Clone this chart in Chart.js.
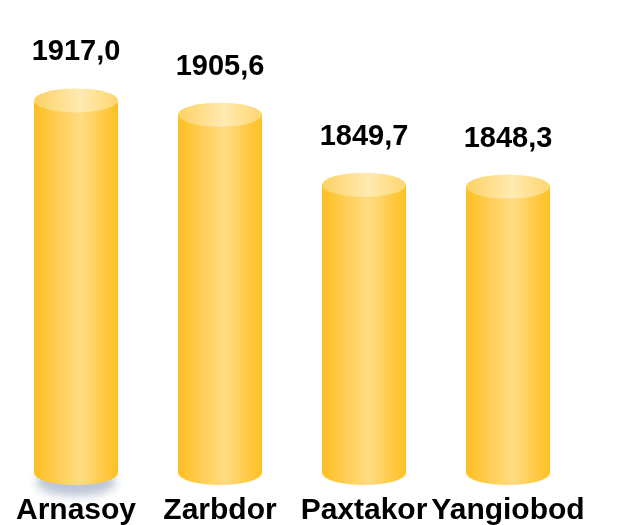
<!DOCTYPE html>
<html>
<head>
<meta charset="utf-8">
<script src="https://cdn.jsdelivr.net/npm/chart.js@4.4.0/dist/chart.umd.min.js"></script>
<style>
  html, body { margin: 0; padding: 0; background: #fff; }
  #wrap { width: 624px; height: 525px; }
</style>
</head>
<body>
<div id="wrap"><canvas id="chart"></canvas></div>
<script>
"use strict";

// Districts and their values
const districts = ['Arnasoy', 'Zarbdor', 'Paxtakor', 'Yangiobod'];
const values = [1917.0, 1905.6, 1849.7, 1848.3];

// Value axis range (axis itself is hidden)
const axisMin = 1620;
const axisMax = 1950;

const capRy = 12;

function bodyGradient(ctx, left, right) {
  const g = ctx.createLinearGradient(left, 0, right, 0);
  g.addColorStop(0, '#FFBF22');
  g.addColorStop(0.55, '#FFDC82');
  g.addColorStop(1, '#FFBF22');
  return g;
}

function capGradient(ctx, left, right) {
  const g = ctx.createLinearGradient(left, 0, right, 0);
  g.addColorStop(0, '#FDD263');
  g.addColorStop(0.55, '#FFEAB2');
  g.addColorStop(1, '#FDD66E');
  return g;
}

// Draw each bar as a cylinder, using the bar element's position
const cylinders = {
  id: 'cylinders',
  afterDatasetsDraw(chart) {
    const ctx = chart.ctx;
    const meta = chart.getDatasetMeta(0);
    meta.data.forEach((bar, i) => {
      const rx = bar.width / 2;
      const left = bar.x - rx;
      const right = bar.x + rx;
      const top = bar.y;
      const base = bar.base;

      // soft shadow under the first cylinder
      if (i === 0) {
        ctx.save();
        ctx.filter = 'blur(5px)';
        ctx.fillStyle = 'rgba(120,140,170,0.5)';
        ctx.beginPath();
        ctx.ellipse(bar.x, base + 9, rx - 2, capRy + 2, 0, 0, Math.PI * 2);
        ctx.fill();
        ctx.restore();
      }

      // body with rounded bottom
      ctx.save();
      ctx.beginPath();
      ctx.moveTo(left, top);
      ctx.lineTo(left, base);
      ctx.ellipse(bar.x, base, rx, capRy, 0, Math.PI, 0, true);
      ctx.lineTo(right, top);
      ctx.closePath();
      ctx.fillStyle = bodyGradient(ctx, left, right);
      ctx.fill();

      // top cap
      ctx.beginPath();
      ctx.ellipse(bar.x, top, rx, capRy, 0, 0, Math.PI * 2);
      ctx.fillStyle = capGradient(ctx, left, right);
      ctx.fill();
      ctx.restore();

      // value label
      ctx.save();
      ctx.font = 'bold 29px "Liberation Sans", Arial, sans-serif';
      ctx.fillStyle = '#000';
      ctx.textAlign = 'center';
      ctx.textBaseline = 'middle';
      ctx.fillText(values[i].toFixed(1).replace('.', ','), bar.x, top - capRy - 36);
      ctx.restore();
    });
  }
};

const ctx = document.getElementById('chart').getContext('2d');

new Chart(ctx, {
  type: 'bar',
  data: {
    labels: districts,
    datasets: [{
      data: values,
      base: axisMin,
      backgroundColor: 'rgba(0,0,0,0)',
      borderWidth: 0,
      barPercentage: 0.583,
      categoryPercentage: 1
    }]
  },
  options: {
    responsive: true,
    maintainAspectRatio: false,
    animation: false,
    layout: {
      padding: { top: 59, left: 4, right: 44, bottom: 0 }
    },
    plugins: {
      legend: { display: false },
      tooltip: { enabled: false }
    },
    scales: {
      x: {
        grid: { display: false, drawTicks: false },
        border: { display: false },
        afterFit(scale) {
          scale.height = 52;
          scale.paddingLeft = 0;
          scale.paddingRight = 0;
        },
        ticks: {
          color: '#000',
          autoSkip: false,
          maxRotation: 0,
          padding: 20,
          font: { family: '"Liberation Sans", Arial, sans-serif', size: 30, weight: 'bold' }
        }
      },
      y: {
        display: false,
        min: axisMin,
        max: axisMax
      }
    }
  },
  plugins: [cylinders]
});
</script>
</body>
</html>
